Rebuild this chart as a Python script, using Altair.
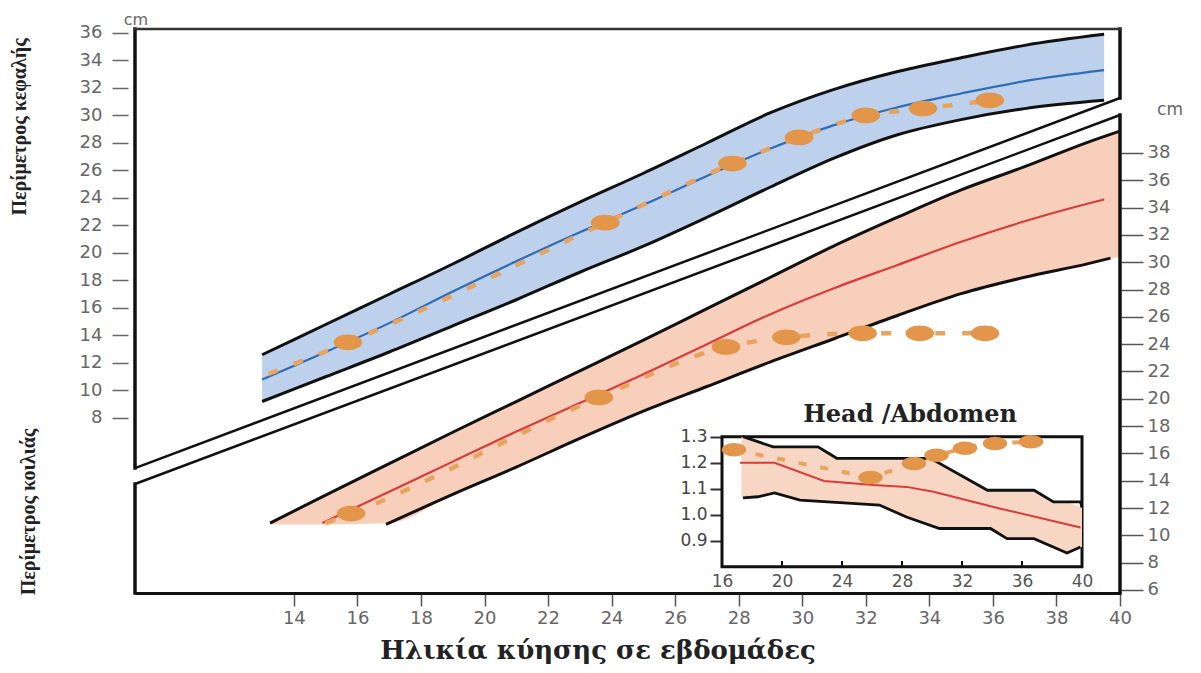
import altair as alt
import pandas as pd

# ---------------- data ----------------
# Head circumference percentile band (left axis, cm)
head_weeks  = [13, 15, 17, 19, 21, 23, 25, 27, 29, 31, 33, 35, 37, 39.5]
head_upper  = [12.6, 14.8, 17.0, 19.2, 21.5, 23.7, 25.8, 28.0, 30.2, 31.9, 33.2, 34.2, 35.1, 35.9]
head_median = [10.8, 12.8, 14.9, 17.2, 19.4, 21.5, 23.5, 25.6, 27.6, 29.3, 30.6, 31.6, 32.5, 33.3]
head_lower  = [9.2, 11.0, 12.8, 14.7, 16.6, 18.6, 20.5, 22.6, 24.8, 26.9, 28.6, 29.7, 30.5, 31.1]
# measured head circumference
head_dot_weeks = [15.7, 23.8, 27.8, 29.9, 32.0, 33.8, 35.9]
head_dot_vals  = [13.5, 22.2, 26.5, 28.4, 30.0, 30.5, 31.1]
head_trend_start_week = [13.2]
head_trend_start_val = [11.2]

# Abdominal circumference percentile band (right axis, cm)
abd_weeks       = [13.25, 15, 17, 19, 21, 23, 25, 27, 29, 31, 33, 35, 37, 39, 40]
abd_upper       = [10.9, 12.95, 15.25, 17.55, 19.8, 22.05, 24.3, 26.6, 28.9, 31.2, 33.3, 35.3, 37.0, 38.8, 39.6]
abd_fill_lower  = [10.8, 10.8, 10.9, 13.0, 15.0, 17.1, 19.1, 20.9, 22.7, 24.4, 26.1, 27.7, 28.9, 29.9, 30.4]
abd_median_weeks = [14.9, 17, 19, 21, 23, 25, 27, 29, 31, 33, 35, 37, 39, 39.5]
abd_median       = [10.9, 13.2, 15.4, 17.6, 19.7, 21.8, 24.0, 26.2, 28.1, 29.8, 31.5, 33.0, 34.3, 34.6]
abd_lower_weeks  = [16.9, 19, 21, 23, 25, 27, 29, 31, 33, 35, 37, 39, 39.7]
abd_lower        = [10.8, 13.0, 15.0, 17.1, 19.1, 20.9, 22.7, 24.4, 26.1, 27.7, 28.9, 29.9, 30.3]
# measured abdominal circumference
abd_dot_weeks = [15.8, 23.6, 27.6, 29.5, 31.9, 33.7, 35.75]
abd_dot_vals  = [11.6, 20.1, 23.8, 24.5, 24.8, 24.8, 24.8]
abd_trend_start_week = [15.0]
abd_trend_start_val = [10.9]

# Inset: Head / Abdomen ratio
inset_upper_weeks = [17.4, 19.4, 22.4, 23.65, 29.9, 33.7, 36.8, 38.1, 39.9, 40.0]
inset_upper       = [1.30, 1.261, 1.261, 1.217, 1.217, 1.094, 1.094, 1.049, 1.049, 1.028]
inset_median_weeks = [17.2, 19.5, 22.8, 26.1, 28.3, 30.1, 34.5, 39.9]
inset_median       = [1.200, 1.200, 1.130, 1.114, 1.107, 1.088, 1.024, 0.951]
inset_lower_weeks = [17.4, 18.4, 19.5, 21.2, 26.5, 28.3, 30.5, 33.9, 35.0, 36.8, 39.0, 39.9]
inset_lower       = [1.065, 1.069, 1.084, 1.056, 1.037, 0.991, 0.947, 0.947, 0.908, 0.908, 0.853, 0.876]
inset_fill_weeks = [17.3, 18.4, 19.4, 21.2, 22.4, 23.7, 26.5, 28.3, 29.9, 30.5, 33.7, 35.0, 36.8, 38.1, 39.0, 40.0]
inset_fill_upper = [1.30, 1.28, 1.261, 1.261, 1.261, 1.217, 1.217, 1.217, 1.217, 1.198, 1.094, 1.094, 1.094, 1.049, 1.049, 1.028]
inset_fill_lower = [1.065, 1.069, 1.082, 1.056, 1.052, 1.047, 1.037, 0.991, 0.959, 0.947, 0.947, 0.908, 0.908, 0.876, 0.853, 0.876]
inset_dot_weeks = [16.8, 25.9, 28.8, 30.3, 32.2, 34.2, 36.6]
inset_dot_vals  = [1.25, 1.143, 1.197, 1.229, 1.256, 1.274, 1.281]

# axis ticks
x_ticks = list(range(14, 41, 2))
head_ticks = list(range(8, 37, 2))
abd_ticks = list(range(6, 39, 2))
inset_x_ticks = [16, 20, 24, 28, 32, 36, 40]
inset_inner_ticks = [20, 24, 28, 32, 36]
inset_y_ticks = [0.9, 1.0, 1.1, 1.2, 1.3]

# frame / broken-axis geometry (in data units of each scale)
X_MIN, X_MAX = 9, 40
HEAD_DOMAIN = [-4.727, 36.29]
ABD_DOMAIN = [5.78, 47.08]
head_break_val = 4.36     # left axis (upper part) ends here
head_box_right_val = 31.27
abd_break_val = 13.76     # left axis (lower part) restarts here
abd_axis_top_val = 40.78

W, H = 985, 564
INSET_RANGE_X = [587, 947]
INSET_RANGE_Y = [537.7, 407.7]

# ---------------- styles ----------------
BLUE_FILL = "#bdd0ec"
ORANGE_FILL = "#f7cfba"
INSET_FILL = "#f8d6c4"
EDGE = "#111111"
BLUE_LINE = "#2e6db4"
RED_LINE = "#dc3b3b"
DOT = "#e3954a"
DASH = "#e9a35f"
ELLIPSE = "M -1 0 A 1 0.55 0 1 1 1 0 A 1 0.55 0 1 1 -1 0 Z"
LBL_FONT = "DejaVu Sans"

x_axis_main = alt.Axis(orient="bottom", values=x_ticks, title=None, grid=False,
                       domain=True, domainColor=EDGE, domainWidth=3,
                       ticks=True, tickSize=13, tickColor="#555", tickWidth=1.5,
                       labelFont=LBL_FONT, labelFontSize=18, labelColor="#666",
                       labelPadding=3, labelOverlap=False, labelFlush=False)
y_axis_head = alt.Axis(orient="left", values=head_ticks, title=None, grid=False,
                       domain=False, tickSize=16, tickColor="#666", tickWidth=1.5,
                       offset=7, labelPadding=10, labelFont=LBL_FONT, labelFontSize=18,
                       labelColor="#666", labelOverlap=False)
y_axis_abd = alt.Axis(orient="right", values=abd_ticks, title=None, grid=False,
                      domain=False, tickSize=22, tickColor="#555", tickWidth=1.5,
                      offset=1, labelPadding=4, labelFont=LBL_FONT, labelFontSize=18,
                      labelColor="#666", labelOverlap=False)
x_axis_inset = alt.Axis(orient="bottom", values=inset_x_ticks, title=None, grid=False,
                        domain=False, ticks=False, offset=-26.3, labelPadding=7,
                        labelFont=LBL_FONT, labelFontSize=17, labelColor="#555",
                        labelOverlap=False, labelFlush=False)
y_axis_inset = alt.Axis(orient="left", values=inset_y_ticks, format=".1f", title=None,
                        grid=False, domain=False, tickSize=12, tickColor="#333",
                        tickWidth=2, offset=-587, labelPadding=3, labelFont=LBL_FONT,
                        labelFontSize=17, labelColor="#444", labelOverlap=False)

xs_main = alt.Scale(domain=[X_MIN, X_MAX], nice=False, zero=False)
ys_head = alt.Scale(domain=HEAD_DOMAIN, nice=False, zero=False)
ys_abd = alt.Scale(domain=ABD_DOMAIN, nice=False, zero=False)
xs_inset = alt.Scale(domain=[16, 40], range=INSET_RANGE_X, nice=False, zero=False)
ys_inset = alt.Scale(domain=[0.8, 1.3], range=INSET_RANGE_Y, nice=False, zero=False)


def HX(f="w"):
    return alt.X(f"{f}:Q", scale=xs_main, axis=x_axis_main)


def HY(f):
    return alt.Y(f"{f}:Q", scale=ys_head, axis=y_axis_head)


def AX(f="w"):
    return alt.X(f"{f}:Q", scale=xs_main, axis=None)


def AY(f):
    return alt.Y(f"{f}:Q", scale=ys_abd, axis=y_axis_abd)


def IX(f="w"):
    return alt.X(f"{f}:Q", scale=xs_inset, axis=x_axis_inset)


def IY(f):
    return alt.Y(f"{f}:Q", scale=ys_inset, axis=y_axis_inset)


# ---------------- head panel ----------------
df_head = pd.DataFrame({"w": head_weeks, "up": head_upper, "md": head_median, "lo": head_lower})
df_head_trend = pd.DataFrame({"w": head_trend_start_week + head_dot_weeks,
                              "v": head_trend_start_val + head_dot_vals})
df_head_dots = pd.DataFrame({"w": head_dot_weeks, "v": head_dot_vals})
df_head_vrules = pd.DataFrame({"x": [X_MIN, X_MAX], "y": [head_break_val, head_box_right_val],
                               "y2": [HEAD_DOMAIN[1], HEAD_DOMAIN[1]]})
df_head_top = pd.DataFrame({"x": [X_MIN], "x2": [X_MAX], "y": [HEAD_DOMAIN[1]]})
df_break1 = pd.DataFrame({"w": [X_MIN, X_MAX], "v": [head_break_val, head_box_right_val]})

base_h = alt.Chart(df_head)
head = alt.layer(
    base_h.mark_area(color=BLUE_FILL, interpolate="monotone").encode(HX(), HY("up"), alt.Y2("lo:Q")),
    base_h.mark_line(color=EDGE, strokeWidth=3, interpolate="monotone").encode(HX(), HY("up")),
    base_h.mark_line(color=EDGE, strokeWidth=3, interpolate="monotone").encode(HX(), HY("lo")),
    base_h.mark_line(color=BLUE_LINE, strokeWidth=2.2, interpolate="monotone").encode(HX(), HY("md")),
    alt.Chart(df_head_trend).mark_line(color=DASH, strokeWidth=4.5, strokeDash=[10, 17],
                                       interpolate="monotone").encode(HX(), HY("v")),
    alt.Chart(df_head_dots).mark_point(shape=ELLIPSE, filled=True, size=820, color=DOT,
                                       opacity=1).encode(HX(), HY("v")),
    alt.Chart(df_break1).mark_line(color=EDGE, strokeWidth=2.5).encode(HX(), HY("v")),
    alt.Chart(df_head_vrules).mark_rule(color=EDGE, strokeWidth=3.5, strokeCap="square").encode(
        HX("x"), HY("y"), alt.Y2("y2:Q")),
    alt.Chart(df_head_top).mark_rule(color="#333", strokeWidth=2.5, strokeCap="square").encode(
        HX("x"), alt.X2("x2:Q"), HY("y")),
)

# ---------------- abdomen panel ----------------
df_abd = pd.DataFrame({"w": abd_weeks, "up": abd_upper, "lo": abd_fill_lower})
df_abd_med = pd.DataFrame({"w": abd_median_weeks, "v": abd_median})
df_abd_low = pd.DataFrame({"w": abd_lower_weeks, "v": abd_lower})
df_abd_trend = pd.DataFrame({"w": abd_trend_start_week + abd_dot_weeks,
                             "v": abd_trend_start_val + abd_dot_vals})
df_abd_dots = pd.DataFrame({"w": abd_dot_weeks, "v": abd_dot_vals})
df_abd_vrules = pd.DataFrame({"x": [X_MIN, X_MAX], "y": [ABD_DOMAIN[0], ABD_DOMAIN[0]],
                              "y2": [abd_break_val, abd_axis_top_val]})
df_break2 = pd.DataFrame({"w": [X_MIN, X_MAX], "v": [abd_break_val, abd_axis_top_val]})

base_a = alt.Chart(df_abd)
abd = alt.layer(
    base_a.mark_area(color=ORANGE_FILL, interpolate="monotone").encode(AX(), AY("up"), alt.Y2("lo:Q")),
    base_a.mark_line(color=EDGE, strokeWidth=3, interpolate="monotone").encode(AX(), AY("up")),
    alt.Chart(df_abd_low).mark_line(color=EDGE, strokeWidth=3, interpolate="monotone").encode(AX(), AY("v")),
    alt.Chart(df_abd_med).mark_line(color=RED_LINE, strokeWidth=2.2, interpolate="monotone").encode(AX(), AY("v")),
    alt.Chart(df_abd_trend).mark_line(color=DASH, strokeWidth=4.5, strokeDash=[10, 17],
                                      interpolate="monotone").encode(AX(), AY("v")),
    alt.Chart(df_abd_dots).mark_point(shape=ELLIPSE, filled=True, size=820, color=DOT,
                                      opacity=1).encode(AX(), AY("v")),
    alt.Chart(df_break2).mark_line(color=EDGE, strokeWidth=2.5).encode(AX(), AY("v")),
    alt.Chart(df_abd_vrules).mark_rule(color=EDGE, strokeWidth=3.5, strokeCap="square").encode(
        AX("x"), AY("y"), alt.Y2("y2:Q")),
)

# ---------------- inset ----------------
df_in_box = pd.DataFrame({"x": [16], "x2": [40], "y": [0.8], "y2": [1.3]})
df_in_fill = pd.DataFrame({"w": inset_fill_weeks, "up": inset_fill_upper, "lo": inset_fill_lower})
df_in_up = pd.DataFrame({"w": inset_upper_weeks, "v": inset_upper})
df_in_md = pd.DataFrame({"w": inset_median_weeks, "v": inset_median})
df_in_lo = pd.DataFrame({"w": inset_lower_weeks, "v": inset_lower})
df_in_dots = pd.DataFrame({"w": inset_dot_weeks, "v": inset_dot_vals})
df_in_ticks = pd.DataFrame({"w": inset_inner_ticks, "y": [0.8] * len(inset_inner_ticks),
                            "y2": [0.822] * len(inset_inner_ticks)})

inset = alt.layer(
    alt.Chart(df_in_box).mark_rect(fill="white", stroke=EDGE, strokeWidth=3).encode(
        IX("x"), alt.X2("x2:Q"), IY("y"), alt.Y2("y2:Q")),
    alt.Chart(df_in_fill).mark_area(color=INSET_FILL).encode(IX(), IY("up"), alt.Y2("lo:Q")),
    alt.Chart(df_in_up).mark_line(color=EDGE, strokeWidth=2.8).encode(IX(), IY("v")),
    alt.Chart(df_in_lo).mark_line(color=EDGE, strokeWidth=2.8).encode(IX(), IY("v")),
    alt.Chart(df_in_md).mark_line(color=RED_LINE, strokeWidth=2).encode(IX(), IY("v")),
    alt.Chart(df_in_dots).mark_line(color=DASH, strokeWidth=4, strokeDash=[8, 14]).encode(IX(), IY("v")),
    alt.Chart(df_in_dots).mark_point(shape=ELLIPSE, filled=True, size=600, color=DOT,
                                     opacity=1).encode(IX(), IY("v")),
    alt.Chart(df_in_ticks).mark_rule(color=EDGE, strokeWidth=2).encode(IX("w"), IY("y"), alt.Y2("y2:Q")),
)


# ---------------- text annotations ----------------
def label(text, x, y, size, font, weight="normal", color="#222", angle=0, align="center",
          baseline="middle"):
    return alt.Chart(pd.DataFrame({"t": [text]})).mark_text(
        fontSize=size, font=font, fontWeight=weight, color=color, angle=angle,
        align=align, baseline=baseline).encode(text="t:N", x=alt.value(x), y=alt.value(y))


texts = alt.layer(
    label("cm", 1, -4, 16, LBL_FONT, color="#666", baseline="alphabetic"),
    label("cm", 1035, 86, 17, LBL_FONT, color="#666", baseline="alphabetic"),
    label("Περίμετρος κεφαλής", -115, 98, 20, "Liberation Serif", weight="bold", angle=270),
    label("Περίμετρος κοιλιάς", -106, 483, 20, "Liberation Serif", weight="bold", angle=270),
    label("Ηλικία κύησης σε εβδομάδες", 463, 630, 26, "DejaVu Serif", weight="bold",
          baseline="alphabetic"),
    label("Head /Abdomen", 775, 386, 24, "DejaVu Serif", weight="bold"),
)

chart = alt.layer(head, abd, inset, texts).resolve_scale(
    x="independent", y="independent"
).properties(
    width=W, height=H,
    autosize=alt.AutoSizeParams(type="none"),
    padding={"left": 127, "top": 21, "right": 73, "bottom": 72},
).configure_view(stroke=None).configure_axis(grid=False)

chart.save("out.html", embed_options={"renderer": "svg", "actions": False})
